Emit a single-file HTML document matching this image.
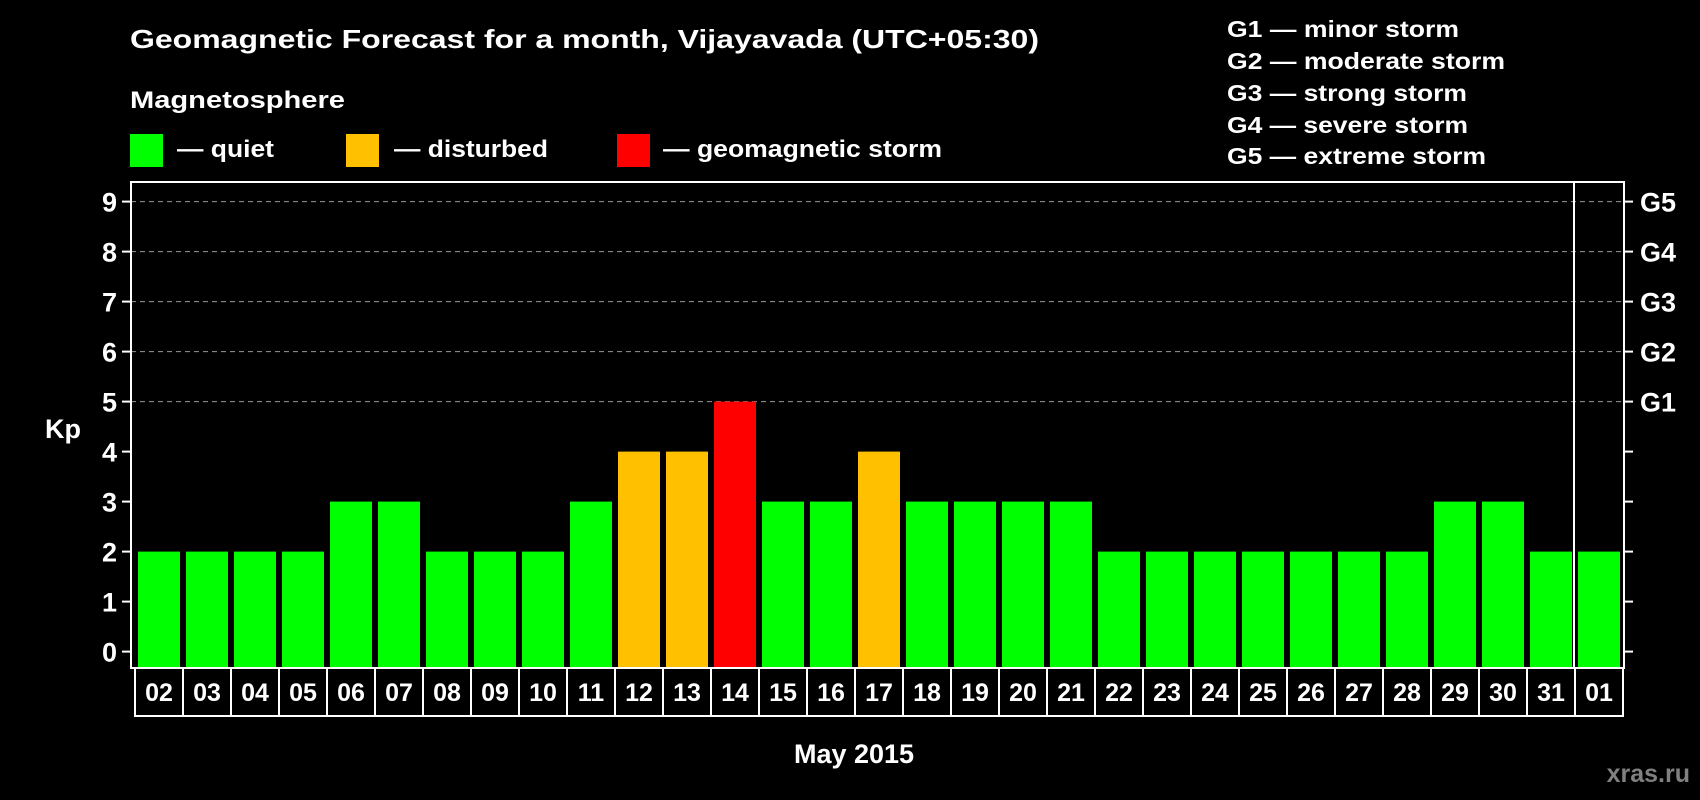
<!DOCTYPE html>
<html><head><meta charset="utf-8"><style>
html,body{margin:0;padding:0;background:#000;}
svg{display:block;font-family:"Liberation Sans",sans-serif;font-weight:bold;}
</style></head><body>
<svg id="chart" width="1700" height="800" viewBox="0 0 1700 800" xmlns="http://www.w3.org/2000/svg">
<rect width="1700" height="800" fill="#000"/>
<text x="130" y="48" fill="#fff" font-size="26" textLength="909" lengthAdjust="spacingAndGlyphs">Geomagnetic Forecast for a month, Vijayavada (UTC+05:30)</text>
<text x="130" y="108" fill="#fff" font-size="24" textLength="215" lengthAdjust="spacingAndGlyphs">Magnetosphere</text>
<g>
<rect x="130" y="134" width="33" height="33" fill="#00ff00"/>
<text x="177" y="157" fill="#fff" font-size="24" textLength="97" lengthAdjust="spacingAndGlyphs">— quiet</text></g>
<g>
<rect x="346" y="134" width="33" height="33" fill="#ffc000"/>
<text x="394" y="157" fill="#fff" font-size="24" textLength="154" lengthAdjust="spacingAndGlyphs">— disturbed</text></g>
<g>
<rect x="617" y="134" width="33" height="33" fill="#ff0000"/>
<text x="663" y="157" fill="#fff" font-size="24" textLength="279" lengthAdjust="spacingAndGlyphs">— geomagnetic storm</text></g>
<g fill="#fff" font-size="23">
<text x="1227" y="37" textLength="232" lengthAdjust="spacingAndGlyphs">G1 — minor storm</text>
<text x="1227" y="69" textLength="278" lengthAdjust="spacingAndGlyphs">G2 — moderate storm</text>
<text x="1227" y="101" textLength="240" lengthAdjust="spacingAndGlyphs">G3 — strong storm</text>
<text x="1227" y="133" textLength="241" lengthAdjust="spacingAndGlyphs">G4 — severe storm</text>
<text x="1227" y="164" textLength="259" lengthAdjust="spacingAndGlyphs">G5 — extreme storm</text>
</g>
<g id="plot"></g>
<text x="63" y="438" fill="#fff" font-size="27" text-anchor="middle">Kp</text>
<text x="854" y="763" fill="#fff" font-size="27" text-anchor="middle">May 2015</text>
<text x="1690" y="782" fill="#808080" font-size="25" text-anchor="end">xras.ru</text>
</svg>
<script>
const days = ["02","03","04","05","06","07","08","09","10","11","12","13","14","15","16","17","18","19","20","21","22","23","24","25","26","27","28","29","30","31","01"];
const kp = [2,2,2,2,3,3,2,2,2,3,4,4,5,3,3,4,3,3,3,3,2,2,2,2,2,2,2,3,3,2,2];
const yTicks = [0,1,2,3,4,5,6,7,8,9];
const gLabels = ["G1","G2","G3","G4","G5"];
const gLevels = [5,6,7,8,9];

const NS="http://www.w3.org/2000/svg";
const g=document.getElementById('plot');
const L=131,R=1624,T=182,B=668;
const y=v=>651.6-v*50;
const x0=135, step=48;
const xs=i=>x0+i*step;
function mk(t,a){const e=document.createElementNS(NS,t);for(const k in a)e.setAttribute(k,a[k]);g.appendChild(e);return e;}
const col=v=>v>=5?"#ff0000":(v>=4?"#ffc000":"#00ff00");
gLevels.forEach(v=>{
  const l=mk('line',{x1:L,x2:R,y1:y(v),y2:y(v),stroke:'#999','stroke-dasharray':'5,4','stroke-width':1});
  
  
});
kp.forEach((v,i)=>{
  const r=mk('rect',{x:xs(i)+3,y:y(v),width:42,height:B-1-y(v),fill:col(v)});
  
  
});
const f=mk('rect',{x:L,y:T,width:R-L,height:B-T,fill:'none',stroke:'#fff','stroke-width':2});


const sep=mk('line',{x1:xs(days.length-1)-1,x2:xs(days.length-1)-1,y1:T,y2:B,stroke:'#fff','stroke-width':2});


yTicks.forEach(v=>{
  mk('line',{x1:122,x2:L,y1:y(v),y2:y(v),stroke:'#fff','stroke-width':2});
  mk('line',{x1:R,x2:R+9,y1:y(v),y2:y(v),stroke:'#fff','stroke-width':2});
  const t=mk('text',{x:117,y:y(v)+10,fill:'#fff','font-size':27,'text-anchor':'end'});
  t.textContent=v;
  
  
});
gLevels.forEach((v,i)=>{
  const t=mk('text',{x:1640,y:y(v)+10,fill:'#fff','font-size':27});
  t.textContent=gLabels[i];
  
  
});
days.forEach((d,i)=>{
  const b=mk('rect',{x:xs(i),y:B,width:step,height:48,fill:'none',stroke:'#fff','stroke-width':2});
  
  
  const t=mk('text',{x:xs(i)+step/2,y:B+33,fill:'#fff','font-size':25,'text-anchor':'middle'});
  t.textContent=d;
  
  
});
</script>
</body></html>
